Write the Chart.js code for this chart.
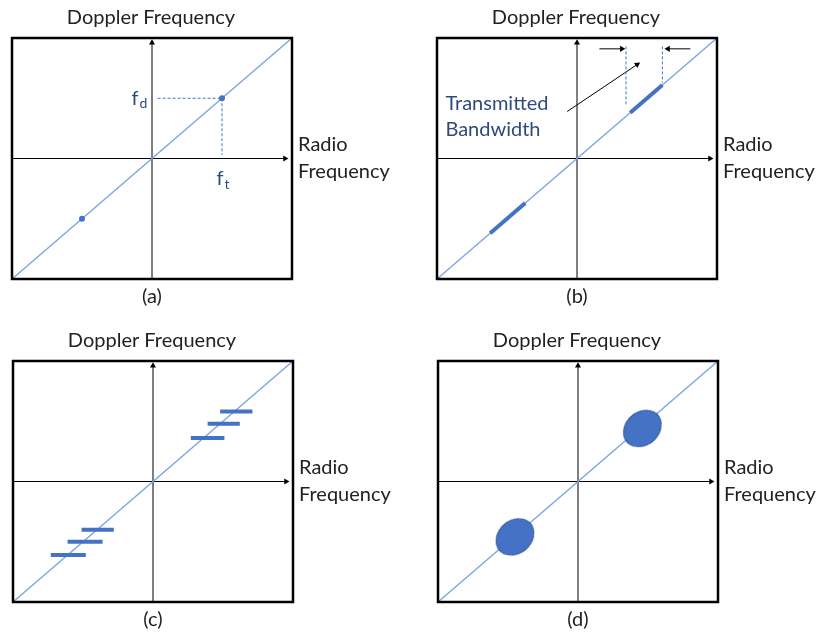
<!DOCTYPE html>
<html>
<head>
<meta charset="utf-8">
<script src="https://cdn.jsdelivr.net/npm/chart.js@4.4.0/dist/chart.umd.min.js"></script>
<style>
  html, body { margin: 0; padding: 0; background: #fff; overflow: hidden; }
  #wrap { position: relative; width: 820px; height: 633px; }
  .panel { position: absolute; width: 410px; height: 320px; }
</style>
</head>
<body>
<div id="wrap">
  <div class="panel" style="left:0;top:0"><canvas id="panelA" width="410" height="320"></canvas></div>
  <div class="panel" style="left:425px;top:0"><canvas id="panelB" width="410" height="320"></canvas></div>
  <div class="panel" style="left:1px;top:323px"><canvas id="panelC" width="410" height="320"></canvas></div>
  <div class="panel" style="left:426px;top:323px"><canvas id="panelD" width="410" height="320"></canvas></div>
</div>
<script>
// --- data (normalised frequency units, -1..1 on both axes) ---
const diagX = [-1, 1];
const diagY = [-1, 1];

const axisHX = [-1, 0.95], axisHY = [0, 0];
const axisVX = [0, 0], axisVY = [-1, 0.96];

// (a) single tones
const dotX = [-0.5, 0.5];
const dotY = [-0.5, 0.5];
const fdGuideX = [0.04, 0.5], fdGuideY = [0.5, 0.5];
const ftGuideX = [0.5, 0.5], ftGuideY = [0.5, 0.03];

// (b) transmitted band
const bandLowX = [-0.62, -0.37], bandLowY = [-0.62, -0.37];
const bandHighX = [0.38, 0.61], bandHighY = [0.38, 0.61];
const edgeLX = [0.35, 0.35], edgeLY = [0.93, 0.45];
const edgeRX = [0.61, 0.61], edgeRY = [0.93, 0.63];
const pointerLX = [0.16, 0.32], pointerRX = [0.81, 0.65], pointerY = [0.91, 0.91];
const calloutX = [-0.07, 0.43], calloutY = [0.39, 0.78];

// (c) stepped lines
const stepStartX = [0.48, 0.39, 0.27, -0.51, -0.61, -0.73];
const stepEndX   = [0.71, 0.62, 0.51, -0.28, -0.36, -0.48];
const stepY      = [0.58, 0.48, 0.36, -0.40, -0.50, -0.61];

// (d) spread blobs
const blobX = [-0.45, 0.46];
const blobY = [-0.46, 0.44];

// --- styles ---
const LINE_BLUE = '#7FA6E1';
const MARK_BLUE = '#4472C4';
const LABEL_BLUE = '#2F4B7C';
const INK = '#222';
const FONT = '20px Lato';
const SUB_FONT = '14px Lato';

const pts = (xs, ys) => xs.map((x, i) => ({ x, y: ys[i] }));

const line = (xs, ys, color, width, dash) => ({
  data: pts(xs, ys), showLine: true, borderColor: color, borderWidth: width,
  borderDash: dash || [], pointRadius: 0, clip: false
});

const baseSets = () => [
  line(diagX, diagY, LINE_BLUE, 1.5),
  line(axisHX, axisHY, '#000', 1),
  line(axisVX, axisVY, '#000', 1),
  {
    data: [{ x: axisHX[1], y: 0 }, { x: 0, y: axisVY[1] }],
    pointStyle: 'triangle', rotation: [90, 0], pointRadius: 3.5,
    backgroundColor: '#000', borderColor: '#000', borderWidth: 0, clip: false
  }
];

const framePlugin = {
  id: 'frame',
  afterDatasetsDraw(chart, args, opts) {
    const { ctx, chartArea: a, scales: { x, y } } = chart;
    ctx.save();
    ctx.strokeStyle = '#000'; ctx.lineWidth = 2.5;
    ctx.strokeRect(a.left, a.top, a.right - a.left, a.bottom - a.top);
    ctx.fillStyle = INK; ctx.font = FONT;
    ctx.textAlign = 'center'; ctx.textBaseline = 'middle';
    ctx.fillText('Doppler Frequency', (a.left + a.right) / 2 - 1, a.top - 20);
    ctx.fillText(opts.caption, x.getPixelForValue(0), a.bottom + 18);
    ctx.textAlign = 'left';
    const y0 = y.getPixelForValue(0);
    ctx.fillText('Radio', a.right + 6, y0 - 14);
    ctx.fillText('Frequency', a.right + 6, y0 + 13);
    (opts.notes || []).forEach(n => {
      ctx.fillStyle = LABEL_BLUE;
      ctx.font = FONT;
      const w1 = ctx.measureText(n.text).width;
      ctx.font = SUB_FONT;
      const w2 = n.sub ? ctx.measureText(n.sub).width : 0;
      let px = x.getPixelForValue(n.x);
      const py = y.getPixelForValue(n.y);
      if (n.align === 'right') px -= w1 + w2;
      ctx.font = FONT;
      ctx.fillText(n.text, px, py);
      if (n.sub) { ctx.font = SUB_FONT; ctx.fillText(n.sub, px + w1 + 1, py + 5); }
    });
    ctx.restore();
  }
};

const makeChart = (id, datasets, caption, notes) => new Chart(document.getElementById(id), {
  type: 'scatter',
  data: { datasets },
  options: {
    responsive: false, animation: false, devicePixelRatio: 1,
    layout: { autoPadding: false, padding: { left: 12, right: 118, top: 38, bottom: 41 } },
    scales: {
      x: { type: 'linear', min: -1, max: 1, display: false },
      y: { type: 'linear', min: -1, max: 1, display: false }
    },
    plugins: {
      legend: { display: false }, tooltip: { enabled: false },
      frame: { caption, notes }
    }
  },
  plugins: [framePlugin]
});

// (a)
makeChart('panelA', [
  { data: pts(dotX, dotY), pointRadius: 3, backgroundColor: MARK_BLUE, borderWidth: 0 },
  line(fdGuideX, fdGuideY, MARK_BLUE, 1, [3, 2]),
  line(ftGuideX, ftGuideY, MARK_BLUE, 1, [3, 2]),
  ...baseSets()
], '(a)', [
  { text: 'f', sub: 'd', x: -0.04, y: 0.5, align: 'right' },
  { text: 'f', sub: 't', x: 0.46, y: -0.17 }
]);

// (b)
makeChart('panelB', [
  line(bandLowX, bandLowY, MARK_BLUE, 4),
  line(bandHighX, bandHighY, MARK_BLUE, 4),
  line(edgeLX, edgeLY, MARK_BLUE, 1, [3, 2]),
  line(edgeRX, edgeRY, MARK_BLUE, 1, [3, 2]),
  line(pointerLX, pointerY, '#000', 1),
  line(pointerRX, pointerY, '#000', 1),
  line(calloutX, calloutY, '#000', 1),
  {
    data: [{ x: pointerLX[1], y: pointerY[1] }, { x: pointerRX[1], y: pointerY[1] }, { x: calloutX[1], y: calloutY[1] }],
    pointStyle: 'triangle', rotation: [90, 270, 56], pointRadius: 3.5,
    backgroundColor: '#000', borderWidth: 0, clip: false
  },
  ...baseSets()
], '(b)', [
  { text: 'Transmitted', x: -0.94, y: 0.46 },
  { text: 'Bandwidth', x: -0.94, y: 0.24 }
]);

// (c)
makeChart('panelC', [
  ...stepY.map((yv, i) => line([stepStartX[i], stepEndX[i]], [yv, yv], MARK_BLUE, 4)),
  ...baseSets()
], '(c)');

// (d)
const blob = document.createElement('canvas');
blob.width = 46; blob.height = 46;
const bctx = blob.getContext('2d');
bctx.beginPath();
bctx.ellipse(23, 23, 20.5, 16.5, 0, 0, Math.PI * 2);
bctx.fillStyle = MARK_BLUE; bctx.fill();
bctx.strokeStyle = '#2F5597'; bctx.lineWidth = 1; bctx.stroke();

makeChart('panelD', [
  { data: pts(blobX, blobY), pointStyle: blob, rotation: -40, pointRadius: 20 },
  ...baseSets()
], '(d)');
</script>
</body>
</html>
